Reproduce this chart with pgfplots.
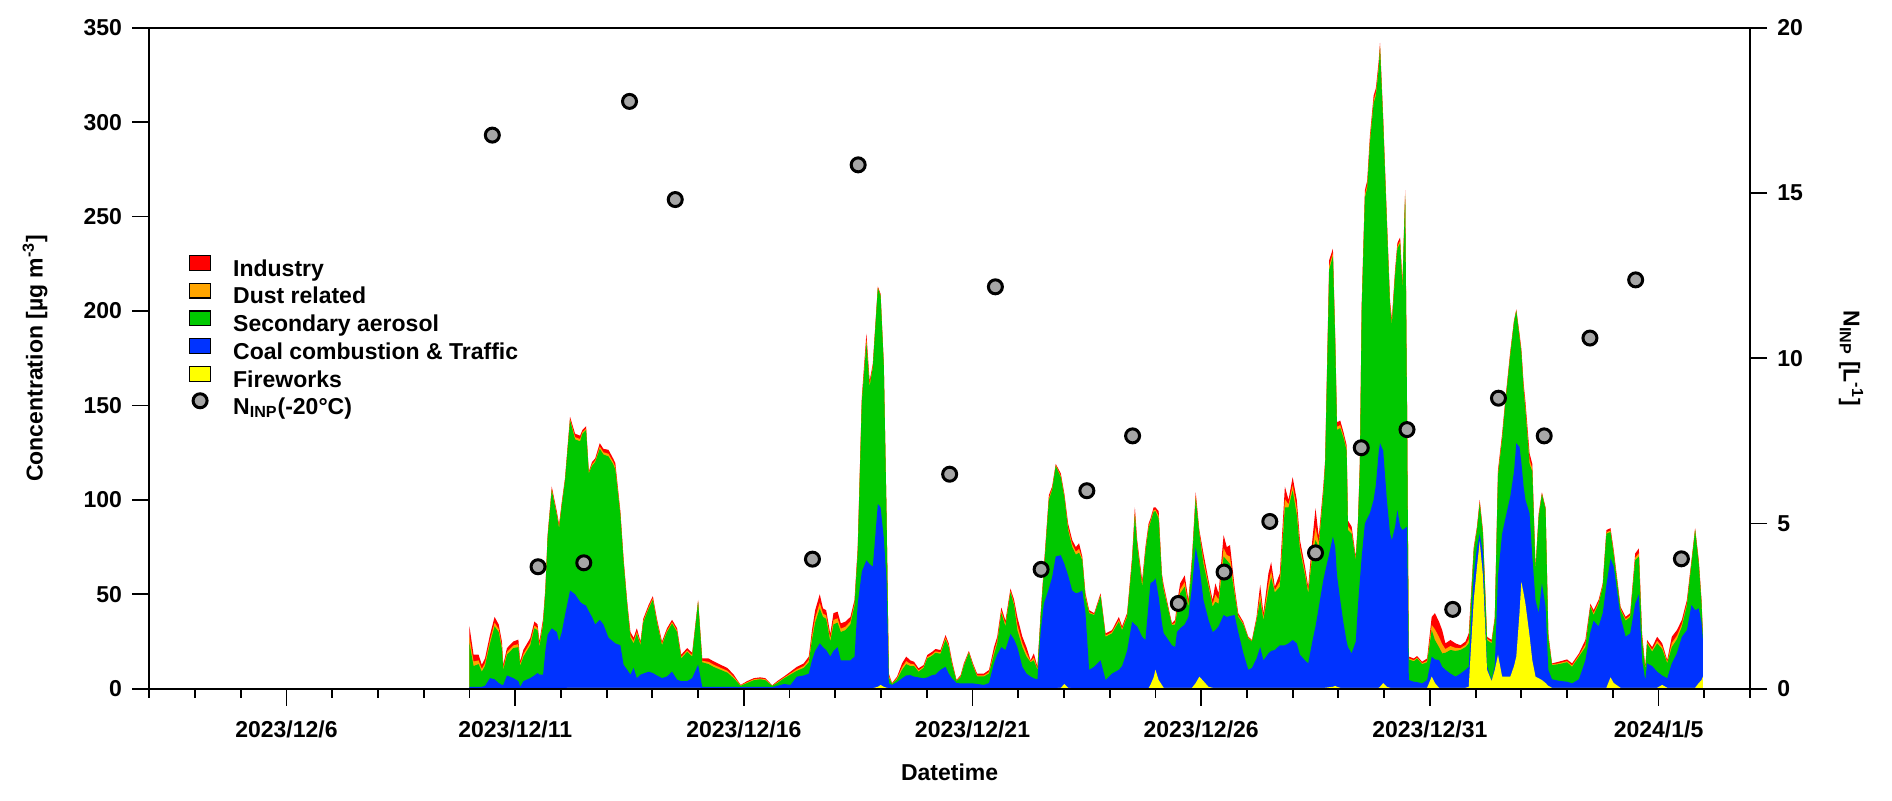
\documentclass[border=0pt]{standalone}
\usepackage{fontspec}
\setmainfont{Liberation Sans}
\usepackage{pgfplots}
\usepackage{pgfplotstable}
\pgfplotsset{compat=1.18}
\definecolor{cind}{RGB}{255,0,0}
\definecolor{cdust}{RGB}{255,165,0}
\definecolor{csec}{RGB}{0,200,0}
\definecolor{ccoal}{RGB}{0,51,255}
\definecolor{cfw}{RGB}{255,255,0}
\definecolor{cninp}{RGB}{166,166,166}
\newcommand{\lab}{\bfseries\fontsize{11.5}{13}\selectfont}
\pgfplotsset{
  boxlegend/.style={area legend, legend image code/.code={\draw[##1, draw=black, line width=0.6pt] (0pt,0.2pt) rectangle (10.5pt,7.6pt);}},
  ninpleg/.style={legend image code/.code={\draw[##1] plot coordinates {(5.25pt,3.9pt)};}},
  common/.style={
    width=800.35pt, height=330.5pt, scale only axis,
    at={(0,0)}, anchor=south west,
    xmin=3, xmax=38,
    axis line style={line width=0.9pt, black},
    tick style={line width=0.9pt, black},
    tick align=outside,
    major tick length=8.5pt, minor tick length=4.5pt,
    /pgf/number format/assume math mode=true,
    ticklabel style={font=\lab},
  }
}
% cumulative envelopes: Y = fireworks top, B = coal top, G = secondary top, D = dust top, T = total (industry top)
\pgfplotstableread{
x Y B G D T
10.00 0.3 1 24 27.6 33
10.09 0.3 1 12 14.4 18
10.20 0.3 1 13 15 18
10.27 0.3 1 9 10.5 12.7
10.34 0.3 1.5 12 13.6 16
10.45 0.3 5.6 24 25.8 28.6
10.55 0.3 5 33 35 38
10.64 0.3 3 30 31.6 34
10.71 0.3 2 21 22.6 25
10.74 0.3 2 10 11.1 12.7
10.82 0.3 7 18 19.4 21.5
10.96 0.3 5.6 21.5 22.9 25
11.07 0.3 4 22 23.6 26
11.11 0.3 1 12 13 14.5
11.18 0.3 4 17 18.4 20.6
11.33 0.3 5.6 23 24.5 26.8
11.42 0.3 7 32 33.4 35.6
11.49 0.3 8.3 31 32.2 34
11.53 0.3 7.5 22 23.2 25
11.61 0.3 7.4 34 35.2 37
11.66 0.3 20 51 51.8 53
11.71 0.3 28.6 80 80.6 81.5
11.80 0.3 32 105 105.8 107
11.91 0.3 30 92 92.8 94
11.96 0.3 25 85 85.8 87
12.02 0.3 30 97 97.8 99
12.09 0.3 39 110 110.6 111.5
12.20 0.5 52 142 142.8 144
12.31 0.5 50 132 133.2 135
12.42 0.5 46 131 132.2 134
12.47 0.5 45 135 135.8 137
12.55 0.5 44 137 137.8 139
12.61 0.5 41 114 114.4 115
12.68 0.5 38 118 118.8 120
12.75 0.5 34 120 120.8 122
12.85 0.5 36.5 127 128.2 130
12.93 0.5 34 124 125.2 127
13.04 0.5 27 123 124.4 126.5
13.14 0.5 25 119 120.2 122
13.19 0.5 24 116 117.4 119.5
13.30 0.5 23 92 92.8 94
13.37 0.5 12.7 67 67.8 69
13.45 0.5 10 44 44.8 46
13.52 0.5 7.4 27 28.2 30
13.59 0.5 11 24 25.2 27
13.66 0.5 5.6 29 30.2 32
13.74 0.5 7.4 23 23.8 25
13.80 0.5 8 35 35.8 37
13.92 0.5 9 42.5 43.3 44.5
14.01 0.5 8.3 47 47.8 49
14.10 0.5 7 35 35.8 37
14.21 0.5 5.6 23 23.8 25
14.32 0.5 6.5 30 30.8 32
14.43 0.5 9 34.5 35.3 36.5
14.54 0.5 4.8 30 30.8 32
14.63 0.5 4 16 16.8 18
14.76 0.5 4 19.5 20.3 21.5
14.87 0.5 5.6 17 17.8 19
15.00 0.5 12.7 46 46.4 47
15.09 0.3 1 14 14.8 16
15.23 0.3 1 13 14.2 16
15.34 0.3 1 11.5 12.7 14.5
15.49 0.3 1 10 11.1 12.7
15.64 0.3 1 8.5 9.5 11
15.78 0.3 1 5.5 6.3 7.4
15.93 0.3 0.8 1.5 1.8 2
16.07 0.3 1 3 3.4 4
16.22 0.3 1 4.5 5 5.6
16.36 0.3 1 5 5.4 6
16.47 0.3 1 4.5 5 5.6
16.62 0.3 0.8 1.5 1.6 1.8
16.73 0.3 1.5 3 3.4 4
16.88 0.3 2.5 5.5 5.9 6.5
17.02 0.3 2 7.5 8.1 9
17.16 0.3 6.4 9.5 10.3 11.6
17.31 0.3 7 11 12 13.4
17.42 0.3 8 14 15.2 17
17.49 0.3 15 25.8 27.9 31
17.56 0.3 20 35 37.6 41.6
17.66 0.3 24 42.5 45.5 50
17.73 0.3 22 38 39.8 42.5
17.80 0.3 20.5 37 38.8 41.6
17.89 0.3 17 25 26.6 29
17.96 0.3 20 34 36.4 40
18.05 0.3 22 35 37.3 40.8
18.12 0.3 15 30 31.8 34.6
18.22 0.3 15 31 32.8 35.5
18.33 0.3 15 34 35.6 38
18.42 0.3 17 44 45.2 47
18.49 0.3 45 72 73.2 75
18.58 0.3 62 152 153 154.6
18.68 0.3 68 183 185 188
18.75 0.3 66 160 161.2 163
18.82 0.3 64.6 170 170.8 172
18.93 1 97.8 212 212.4 213
18.99 2 96 208 208.4 209
19.06 1 80 171 171.4 172
19.12 0.5 57.5 92 92.4 93
19.17 0.3 2.8 6 6.8 8
19.24 0.3 2 2.5 2.7 3
19.35 0.3 3.5 5 5.6 6.4
19.46 0.3 5.5 10 11.4 13.4
19.55 0.3 7 13 14.6 17
19.64 0.3 7.2 12 13.2 15
19.72 0.3 6.4 12 12.9 14.3
19.82 0.3 6 9 9.7 10.8
19.93 0.3 5.5 11 11.6 12.5
20.01 0.3 6 16 16.7 17.8
20.12 0.3 7.2 17.5 18.3 19.6
20.19 0.3 7.5 19 19.8 21
20.30 0.3 10 18.5 19.3 20.5
20.41 0.3 11.6 26 27 28.4
20.48 0.3 8 22 22.8 24
20.55 0.3 5.5 13 13.8 15
20.65 0.3 3 4 4.2 4.6
20.74 0.3 2.8 6 6.5 7.2
20.81 0.3 2.8 12 12.6 13.4
20.92 0.3 2.8 19 19.4 20
21.01 0.3 2.8 12 12.6 13.4
21.10 0.3 2.5 6.5 7.1 8
21.25 0.3 2 6.5 7.1 8
21.36 0.3 3 8 8.8 9.9
21.47 0.3 13.4 18 19.6 22
21.54 0.3 18 24 25.4 27.5
21.63 0.3 22 40 41.2 43
21.72 0.3 20.5 33 34.2 36
21.83 0.3 29 51 51.8 53
21.91 0.3 26 44 45.2 47
21.98 0.3 22 31 33.8 38
22.09 0.3 11.6 22 24.2 27.5
22.18 0.3 8 17 19 22
22.27 0.3 6.4 14 14.4 15
22.34 0.3 5.5 15 16.5 18.7
22.42 0.3 5 10 10.6 11.6
22.49 0.3 30 38 38.8 40
22.56 0.3 45 62 63 64.6
22.67 0.3 53 100 101 102.5
22.74 0.3 59 105 105.8 107
22.82 0.3 70 118 118.4 119
22.93 0.5 70.7 112 112.8 114
23.01 2.5 66 101 101.8 103
23.09 0.5 60 84 85.4 87.5
23.18 0.3 52 75 76.5 78.7
23.26 0.3 50.5 71 72.6 75
23.33 0.3 51 72 74 77
23.40 0.3 52 68 68.8 70
23.47 0.3 40 48 49 50.5
23.55 0.3 10 40 40.6 41.6
23.66 0.3 11.6 39 39.4 40
23.80 0.3 15 49 49.6 50.5
23.91 0.3 4.6 27.5 28.2 29.3
24.05 0.3 8 29.3 30 31
24.20 0.3 10 35.5 36.5 38
24.27 0.3 12 31 31.8 33
24.38 0.3 20 38 38.8 40
24.49 0.3 35.5 67 68.2 70
24.55 0.3 34 92 93.6 96
24.60 0.3 33 76 77 78.7
24.71 0.3 27.5 54 55.4 57.5
24.78 0.3 25.8 72 73.2 75
24.85 0.3 45 85 86 87.5
24.89 2 55.8 88 88.8 90
24.96 6 57 93.7 94.6 96
25.00 10 58.4 94 94.8 96
25.07 4.6 48.7 90 91.6 94
25.14 2 35 59 59.8 61
25.18 0.5 29.3 52 53.2 55
25.25 0.5 27 45 45.8 47
25.36 0.5 23 33.7 34 34.6
25.43 0.5 22 34 35 36.4
25.47 0.5 30 40 42 45
25.54 0.5 32 50.5 52.6 55.8
25.64 0.5 34 54 56.4 60
25.72 0.5 38 43.4 44.8 47
25.80 0.5 54 67 68.2 70
25.88 3 75 100.8 102.1 104
25.96 6.4 64.6 82 82.8 84
26.05 4 47 66 68.2 71.6
26.16 1 36.4 54 55.4 57.5
26.25 0.5 30 43.4 44.8 47
26.31 0.5 31 46 49.9 55.8
26.38 0.5 33 45 47.2 50.5
26.49 0.5 39 70 74.5 81.3
26.56 0.5 38 68 70.8 75
26.63 0.5 38.5 66 70 76
26.73 0.5 39 50 51.6 54
26.81 0.5 30 38 38.8 40
26.92 0.5 19 34 34.6 35.5
27.03 0.5 10 26.6 27 27.5
27.11 0.5 11 25 25.3 25.8
27.21 0.5 16 36 36.8 38
27.29 0.5 22 47 50.2 55
27.36 0.5 15 36.4 37.8 40
27.47 0.5 18.7 52 55.6 61
27.53 0.5 20 59 62.2 67
27.61 0.5 20.5 51 52.2 54
27.72 0.5 23 54 56.8 61
27.83 0.5 23 96 100.4 107
27.91 0.5 24 96 97.6 100
28.00 0.5 25.8 105 107.8 112
28.09 0.5 24 92 95.2 100
28.16 0.5 18 73.4 75.5 78.7
28.27 0.5 15 60 61.8 64.6
28.34 0.5 13.4 50.5 51.9 54
28.43 0.5 25 70 73.5 78.7
28.50 0.5 33 78.7 85.4 95.5
28.57 0.5 43 75 77.2 80.5
28.67 0.5 57.5 103 104.6 107
28.71 0.5 62 118 119.2 121
28.80 0.8 71.6 222 224 227
28.88 1 80.5 229 230.6 233
28.93 1.5 75 184 185.2 187
28.97 1 60 137 138.6 141
29.04 0.5 47 138 139.6 142
29.11 0.5 35 133 134.2 136
29.18 0.5 25 126 127.2 129
29.21 0.5 22 84 86 89
29.29 0.5 18.7 82 83.5 85.8
29.38 0.5 25 68 68.8 70
29.43 0.5 45 88 88.8 90
29.47 0.5 57.5 118 119 121
29.51 0.5 70 200 201.6 204
29.58 0.5 87.5 260 261.6 264
29.63 0.5 90 265 266.6 269
29.69 0.5 93 289 290.6 293
29.77 0.5 100 310 311.6 314
29.82 0.5 108 314 315.6 318
29.88 0.5 125 328 329.6 332
29.91 1 130 339 340.2 342
29.98 3 126 299 300.2 302
30.06 1 100 246 247.2 249
30.13 0.5 82 202 203.2 205
30.17 0.5 78.7 193 194.2 196
30.24 0.5 85.8 219 220.2 222
30.29 0.5 94.6 233 234.2 236
30.35 0.5 86 236 237.2 239
30.40 0.5 84 212 213.2 215
30.46 0.5 85 261 262.2 264
30.50 0.5 85.8 150 150.8 152
30.54 0.5 4.6 15.5 16.1 17
30.65 0.5 3.7 14.5 15.1 16
30.72 0.5 3.5 16 16.5 17.3
30.83 0.5 2.8 13 13.5 14.3
30.94 0.5 4.6 14 14.8 16
31.04 6.4 17 31 33.8 38
31.11 3 15.5 25.8 31.5 40
31.20 0.5 15.2 22 27.4 35.5
31.27 0.5 11.6 18.7 23.6 31
31.34 0.5 10 19 21 24
31.45 0.5 8 20.5 22.6 25.8
31.56 0.5 6.4 20 21.6 24
31.67 0.5 8 20.5 21.5 23
31.78 0.5 10 22 23.2 25
31.85 1 11.6 24 26.1 29.3
31.96 47 60 73 73.8 75
32.03 64.6 75 84 84.7 85.8
32.09 78 82 98 98.8 100
32.16 60 72 82 82.8 84
32.25 10 12 25.8 26.5 27.5
32.35 4 4.6 24 24.7 25.8
32.42 10 12 36.4 37 38
32.49 18 60 113 114.1 115.8
32.58 6.4 82 132 133.2 135
32.65 6.4 90 151 151.8 153
32.76 6.4 102 177 177.8 179
32.84 12 115 194 194.4 195
32.89 17 130 200 200.3 200.8
32.96 40 128 186 186.8 188
33.00 56.6 120 178 178.8 180
33.05 50.5 107 158 159.4 161.6
33.09 45 100 147.5 149.3 152
33.18 28 92.8 119 121.2 124.6
33.24 15 70 115 116.6 119
33.31 6.4 47 62.8 63.5 64.6
33.38 5.5 40 91 91.7 92.8
33.45 4.6 55.8 103 103.4 104
33.53 3 43.4 95 95.4 96
33.59 1.5 10 27 27.9 29.3
33.67 0.5 5 12.5 12.9 13.4
33.82 0.5 4.2 13 13.5 14.3
34.00 0.5 3.7 14 14.6 15.5
34.11 0.5 2.8 11.6 12.3 13.4
34.26 0.5 5 17 17.7 18.7
34.40 0.5 15 22 23.5 25.8
34.51 0.5 30 43.4 44 45
34.58 0.5 36 39 40 41.6
34.69 0.5 33 45 45.8 47
34.78 0.5 40 54 54.7 55.8
34.86 0.5 55 82 82.8 84
34.95 6 69 83 83.8 85
35.02 3 64.6 71 72 73.4
35.17 0.5 38 41.6 42.3 43.4
35.28 0.5 27.5 36 36.8 38
35.38 0.5 29.3 38 38.8 40
35.49 0.5 45 68 69.4 71.6
35.57 0.5 50 70 71.7 74.3
35.64 0.5 15 25.8 27.2 29.3
35.71 0.5 4.6 10 10.6 11.6
35.75 0.5 13.4 24 24.7 25.8
35.86 0.5 12 19.6 20.6 22
35.97 0.5 9 24 25.4 27.5
36.08 2 7 21 22.2 24
36.19 0.5 5.5 13.5 14.2 15.2
36.29 0.5 13.4 22 24.2 27.5
36.40 0.5 18.7 26 28 31
36.51 0.5 27.5 32.8 34.2 36.4
36.62 0.5 31 44 45.2 47
36.72 0.5 44.3 66 66.8 68
36.80 0.5 41.6 84 84.4 85
36.88 3 42.5 66 66.8 68
36.94 4.6 35 45 45.8 47
36.97 6.4 25.8 27 27.8 29
}\conc
\pgfplotstableread{
x n
10.5 16.75
11.5 3.69
12.5 3.81
13.5 17.77
14.5 14.8
17.5 3.92
18.5 15.85
20.5 6.49
21.5 12.16
22.5 3.61
23.5 5.99
24.5 7.65
25.5 2.58
26.5 3.53
27.5 5.06
28.5 4.11
29.5 7.29
30.5 7.84
31.5 2.40
32.5 8.79
33.5 7.65
34.5 10.61
35.5 12.37
36.5 3.93
}\ninp
\begin{document}
\begin{tikzpicture}
\begin{axis}[common,
  ymin=0, ymax=350,
  ytick={0,50,...,350},
  tick pos=left,
  xtick={6,11,16,21,26,31,36},
  xticklabels={2023/12/6,2023/12/11,2023/12/16,2023/12/21,2023/12/26,2023/12/31,2024/1/5},
  minor xtick={3,4,...,38},
  axis on top=true,
  xticklabel style={anchor=base, yshift=-16pt},
  yticklabel style={anchor=east, inner sep=0pt, xshift=-5pt},
  every axis x label/.style={at={(axis description cs:0.5,-0.126)}, anchor=center, font=\lab},
  every axis y label/.style={at={(axis description cs:-0.0714,0.5)}, anchor=center, rotate=90, font=\lab},
  xlabel={Datetime},
  ylabel={Concentration [µg m\textsuperscript{-3}]},
  legend style={at={(axis description cs:0.0248,0.6565)}, anchor=north west, draw=none, fill=none,
    inner sep=0pt, outer sep=0pt, row sep=0.75pt,
    font=\lab, nodes={inner sep=0pt, text height=8pt, text depth=2.5pt},
    /tikz/every odd column/.append style={column sep=11pt}},
  legend cell align=left,
]
\addplot[fill=cind, draw=none, boxlegend] table[x=x,y=T]{\conc} \closedcycle;
\addlegendentry{Industry}
\addplot[fill=cdust, draw=none, boxlegend] table[x=x,y=D]{\conc} \closedcycle;
\addlegendentry{Dust related}
\addplot[fill=csec, draw=none, boxlegend] table[x=x,y=G]{\conc} \closedcycle;
\addlegendentry{Secondary aerosol}
\addplot[fill=ccoal, draw=none, boxlegend] table[x=x,y=B]{\conc} \closedcycle;
\addlegendentry{Coal combustion \& Traffic}
\addplot[fill=cfw, draw=none, boxlegend] table[x=x,y=Y]{\conc} \closedcycle;
\addlegendentry{Fireworks}
\addlegendimage{only marks, mark=*, mark size=3.5pt, mark options={fill=cninp, draw=black, line width=1.5pt}, ninpleg}
\addlegendentry{N\textsubscript{INP}(-20°C)}
\end{axis}
\begin{axis}[common,
  ymin=0, ymax=20,
  ytick={0,5,...,20},
  axis x line=none,
  axis y line*=right,
  yticklabel style={anchor=west, inner sep=0pt, xshift=5pt},
  every axis y label/.style={at={(axis description cs:1.0631,0.5)}, anchor=center, rotate=-90, font=\lab},
  ylabel={N\textsubscript{INP} [L\textsuperscript{-1}]},
]
\addplot[only marks, mark=*, mark size=3.5pt, mark options={fill=cninp, draw=black, line width=1.5pt}] table[x=x,y=n]{\ninp};
\end{axis}
\pgfresetboundingbox
\useasboundingbox (-74.65pt,-55.65pt) rectangle (871.35pt,344.35pt);
\end{tikzpicture}
\end{document}
